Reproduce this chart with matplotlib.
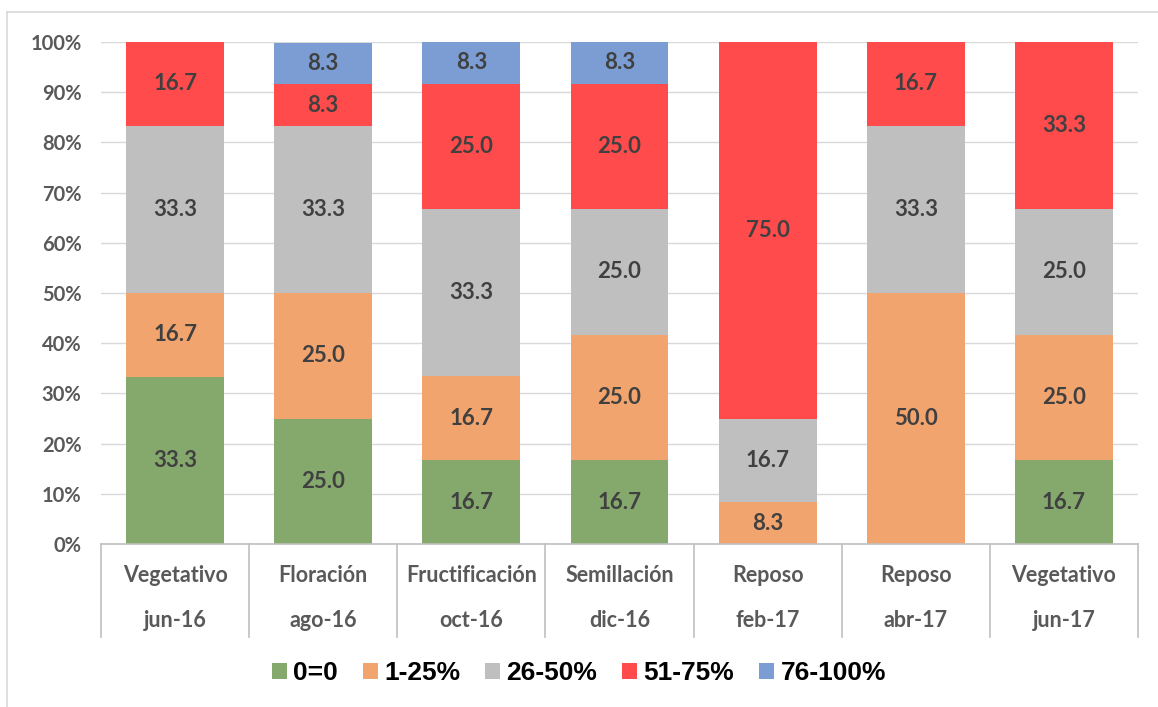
import matplotlib
matplotlib.use("Agg")
import matplotlib.pyplot as plt
from matplotlib.lines import Line2D
import numpy as np

# data (percent of plants per class)
stages = ["Vegetativo", "Floración", "Fructificación", "Semillación", "Reposo", "Reposo", "Vegetativo"]
dates = ["jun-16", "ago-16", "oct-16", "dic-16", "feb-17", "abr-17", "jun-17"]
series_names = ["0=0", "1-25%", "26-50%", "51-75%", "76-100%"]
cls_0 = [33.3, 25.0, 16.7, 16.7, 0.0, 0.0, 16.7]
cls_1_25 = [16.7, 25.0, 16.7, 25.0, 8.3, 50.0, 25.0]
cls_26_50 = [33.3, 33.3, 33.3, 25.0, 16.7, 33.3, 25.0]
cls_51_75 = [16.7, 8.3, 25.0, 25.0, 75.0, 16.7, 33.3]
cls_76_100 = [0.0, 8.3, 8.3, 8.3, 0.0, 0.0, 0.0]
colors = ["#85A86D", "#F2A46E", "#BFBFBF", "#FF4B4B", "#7B9DD4"]

series = [cls_0, cls_1_25, cls_26_50, cls_51_75, cls_76_100]

label_font = "Lato"
fig = plt.figure(figsize=(11.58, 7.07), dpi=100)
ax = fig.add_axes([101 / 1158, 1 - 544 / 707, (1138 - 101) / 1158, (544 - 42) / 707])

x = np.arange(len(stages))
bottom = np.zeros(len(stages))
for name, vals, col in zip(series_names, series, colors):
    vals = np.array(vals)
    ax.bar(x, vals, 0.66, bottom=bottom, color=col, label=name, zorder=2)
    for xi, b, v in zip(x, bottom, vals):
        if v > 0:
            ax.text(xi, b + v / 2, f"{v:.1f}", ha="center", va="center",
                    fontsize=16, fontweight="bold", color="#404040",
                    family=label_font, zorder=3)
    bottom += vals

ax.set_xlim(-0.5, len(stages) - 0.5)
ax.set_ylim(0, 100)
ax.set_yticks(np.arange(0, 101, 10))
ax.set_yticklabels([f"{v}%" for v in range(0, 101, 10)], fontsize=14.5,
                   fontweight="bold", color="#595959", family=label_font)
ax.tick_params(axis="y", length=0, pad=14)
ax.tick_params(axis="x", length=0, labelbottom=False)
ax.yaxis.grid(True, color="#D9D9D9", lw=1, zorder=0)
ax.set_axisbelow(True)
for s in ["top", "right", "left"]:
    ax.spines[s].set_visible(False)
ax.spines["bottom"].set_color("#BFBFBF")
ax.spines["bottom"].set_linewidth(1.2)

# two-level category axis
trans = ax.get_xaxis_transform()
for i, (st, d) in enumerate(zip(stages, dates)):
    ax.text(i, -0.062, st, transform=trans, ha="center", va="center", fontsize=15.5,
            fontweight="bold", color="#595959", family=label_font)
    ax.text(i, -0.153, d, transform=trans, ha="center", va="center", fontsize=15.5,
            fontweight="bold", color="#595959", family=label_font)
for i in range(len(stages) + 1):
    ax.add_line(Line2D([i - 0.5, i - 0.5], [0, -0.185], transform=trans, color="#BFBFBF",
                       lw=1.2, clip_on=False))

leg = fig.legend(loc="center", bbox_to_anchor=(0.5, 1 - 673 / 707), ncol=5, frameon=False,
                 prop={"family": "Liberation Sans", "weight": "bold", "size": 19},
                 handlelength=0.55, handleheight=0.55, handletextpad=0.25, columnspacing=0.95)

# outer chart border
fig.add_artist(Line2D([7 / 1158, 7 / 1158], [0, 1 - 12 / 707], transform=fig.transFigure,
                      color="#D9D9D9", lw=1.2))
fig.add_artist(Line2D([7 / 1158, 1], [1 - 12 / 707, 1 - 12 / 707], transform=fig.transFigure,
                      color="#D9D9D9", lw=1.2))

fig.savefig("out.png", dpi=100)
